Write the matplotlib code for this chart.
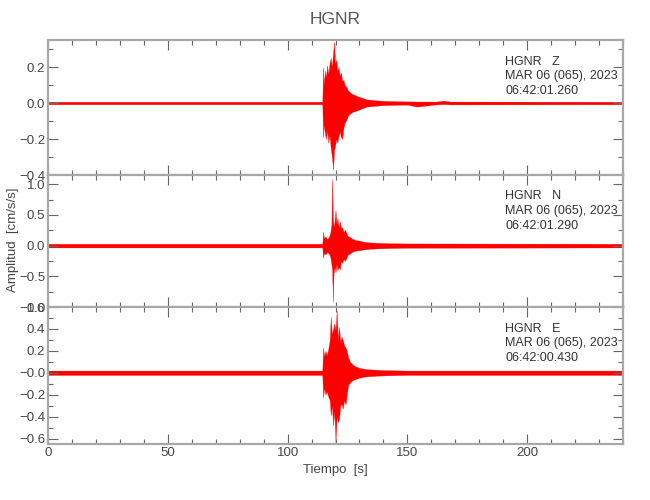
import numpy as np
import matplotlib
matplotlib.use("Agg")
import matplotlib.pyplot as plt
from matplotlib.ticker import MultipleLocator, FixedLocator, FixedFormatter

plt.rcParams['font.family'] = ['Liberation Sans Narrow', 'DejaVu Sans Condensed', 'Liberation Sans']

# envelope of each trace (upper / lower amplitude, cm/s/s)
t_z = [0, 114.5, 114.8, 115.2, 115.6, 116.0, 116.5, 117.0, 117.5, 118.0, 118.5, 119.0, 119.4,
       119.8, 120.3, 120.8, 121.3, 121.8, 122.3, 122.8, 123.3, 123.8, 124.5, 125.2, 126.0,
       127.0, 128.0, 129.5, 131.0, 133.0, 135.0, 137.0, 140.0, 145.0, 150.0, 154.0, 162.0,
       165.0, 168.0, 240]
up_z = [0.007, 0.007, 0.20, 0.10, 0.18, 0.14, 0.21, 0.16, 0.22, 0.25, 0.20, 0.28, 0.34,
        0.22, 0.24, 0.18, 0.20, 0.15, 0.17, 0.12, 0.13, 0.10, 0.09, 0.07, 0.06,
        0.05, 0.045, 0.035, 0.03, 0.02, 0.018, 0.015, 0.012, 0.010, 0.009, 0.008, 0.008,
        0.013, 0.008, 0.007]
lo_z = [-0.007, -0.007, -0.19, -0.12, -0.17, -0.20, -0.15, -0.22, -0.18, -0.25, -0.30, -0.37, -0.26,
        -0.24, -0.20, -0.22, -0.18, -0.16, -0.19, -0.20, -0.14, -0.11, -0.095, -0.07, -0.06,
        -0.05, -0.045, -0.039, -0.03, -0.02, -0.018, -0.015, -0.012, -0.010, -0.009, -0.02, -0.008,
        -0.006, -0.008, -0.007]

t_n = [0, 114.5, 114.8, 115.2, 115.8, 116.5, 117.2, 117.8, 118.3, 118.6, 118.9, 119.2, 119.6,
       120.0, 120.4, 120.8, 121.3, 121.8, 122.3, 122.8, 123.4, 124.0, 125.0, 126.0, 127.0,
       128.5, 130.0, 132.0, 135.0, 138.0, 142.0, 150.0, 240]
up_n = [0.03, 0.03, 0.23, 0.12, 0.15, 0.10, 0.14, 0.20, 0.35, 1.09, 0.45, 0.30, 0.40,
        0.58, 0.35, 0.45, 0.30, 0.39, 0.28, 0.30, 0.22, 0.26, 0.16, 0.14, 0.11,
        0.09, 0.08, 0.06, 0.05, 0.045, 0.04, 0.035, 0.03]
lo_n = [-0.03, -0.03, -0.20, -0.12, -0.145, -0.10, -0.13, -0.18, -0.30, -0.40, -0.92, -0.45, -0.35,
        -0.44, -0.30, -0.40, -0.35, -0.39, -0.25, -0.28, -0.22, -0.25, -0.15, -0.13, -0.10,
        -0.08, -0.075, -0.06, -0.05, -0.045, -0.04, -0.035, -0.03]

t_e = [0, 114.5, 114.8, 115.3, 115.8, 116.4, 117.0, 117.6, 118.0, 118.5, 119.0, 119.5, 120.0,
       120.5, 121.0, 121.5, 122.0, 122.5, 123.0, 123.6, 124.2, 124.7, 125.3, 126.0, 127.0,
       128.0, 130.0, 132.0, 135.0, 139.0, 145.0, 150.0, 240]
up_e = [0.02, 0.02, 0.23, 0.15, 0.20, 0.16, 0.22, 0.30, 0.51, 0.35, 0.40, 0.45, 0.38,
        0.57, 0.30, 0.42, 0.28, 0.33, 0.30, 0.25, 0.23, 0.20, 0.14, 0.10, 0.08,
        0.06, 0.045, 0.035, 0.03, 0.025, 0.022, 0.02, 0.02]
lo_e = [-0.02, -0.02, -0.23, -0.14, -0.20, -0.17, -0.22, -0.25, -0.39, -0.30, -0.48, -0.35, -0.64,
        -0.40, -0.45, -0.42, -0.30, -0.28, -0.33, -0.25, -0.29, -0.20, -0.11, -0.09, -0.07,
        -0.06, -0.045, -0.035, -0.03, -0.025, -0.022, -0.02, -0.02]

components = ['Z', 'N', 'E']
start_times = ['06:42:01.260', '06:42:01.290', '06:42:00.430']
ylims = [(-0.40, 0.35), (-1.0, 1.15), (-0.65, 0.60)]
yticks = [[-0.4, -0.2, 0.0, 0.2], [-1.0, -0.5, 0.0, 0.5, 1.0],
          [-0.6, -0.4, -0.2, 0.0, 0.2, 0.4, 0.6]]
ytick_labels = [['\u22120.4', '\u22120.2', '0.0', '0.2'],
                ['\u22121.0', '\u22120.5', '0.0', '0.5', '1.0'],
                ['\u22120.6', '\u22120.4', '\u22120.2', '\u22120.0', '0.2', '0.4', '0.6']]
yminor = [0.1, 0.25, 0.1]
traces = [(t_z, up_z, lo_z), (t_n, up_n, lo_n), (t_e, up_e, lo_e)]

# panel edges in pixels (top, bottom)
panels_px = [(40, 175), (175, 307), (307, 444)]
W, H = 650, 500
left, right = 48, 623

fig = plt.figure(figsize=(6.5, 5), dpi=100)
frame_c = '#a8a8a8'
tick_c = '#666666'
text_c = '#444444'

for i, (top, bot) in enumerate(panels_px):
    ax = fig.add_axes([left / W, 1 - bot / H, (right - left) / W, (bot - top) / H])
    t, up, lo = traces[i]
    ax.fill_between(t, lo, up, color='red', lw=0.2, edgecolor='red')
    ax.set_xlim(0, 240)
    ax.set_ylim(*ylims[i])
    ax.xaxis.set_major_locator(MultipleLocator(50))
    ax.xaxis.set_minor_locator(MultipleLocator(10))
    ax.yaxis.set_major_locator(FixedLocator(yticks[i]))
    ax.yaxis.set_major_formatter(FixedFormatter(ytick_labels[i]))
    ax.yaxis.set_minor_locator(MultipleLocator(yminor[i]))
    ax.tick_params(which='both', direction='in', top=True, right=True,
                   color=tick_c, width=0.8, labelcolor=text_c, labelsize=9.5, pad=2)
    ax.tick_params(which='major', length=7)
    ax.tick_params(which='minor', length=3.5)
    for s in ax.spines.values():
        s.set_color(frame_c)
        s.set_linewidth(1.6)
    if i < 2:
        ax.tick_params(labelbottom=False)
    ax.text(0.795, 0.885, 'HGNR   %s\nMAR 06 (065), 2023\n%s' % (components[i], start_times[i]),
            transform=ax.transAxes, va='top', ha='left', fontsize=9,
            color='#333333', linespacing=1.3)
    if i == 2:
        ax.set_xlabel('Tiempo  [s]', color=text_c, fontsize=9.5, labelpad=4)

fig.text(335 / W, 1 - 20 / H, 'HGNR', ha='center', va='center', fontsize=12.5, color='#555555')
fig.text(13 / W, 1 - 240 / H, 'Amplitud  [cm/s/s]', rotation=90, ha='center', va='center',
         fontsize=9.5, color=text_c)

fig.savefig('out.png', dpi=100)
